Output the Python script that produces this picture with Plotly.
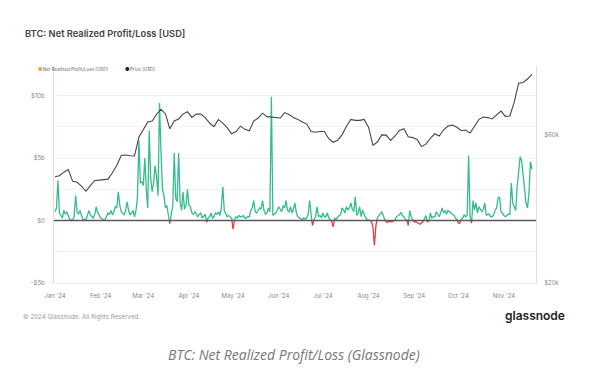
import pandas as pd
import plotly.graph_objects as go

# ---------------- data ----------------
# Net realized profit/loss, USD billions, daily from 2024-01-01
nrpl_start = "2024-01-01"
nrpl_b = [
    0.7, 1.0, 3.2, 0.6, 0.4, 0.2, 0.8, 0.5, 0.7, 0.3,
    0.1, 0.05, 0.05, 0.3, 2.0, 0.7, 0.5, 0.8, 0.3, 0.05,
    0.1, 0.05, 0.4, 0.8, 0.45, 0.3, 0.2, 0.5, 1.1, 0.6,
    0.45, 0.2, 0.1, 0.05, 0.05, 0.3, 0.6, 0.5, 0.8, 0.45,
    0.7, 1.1, 1.0, 2.3, 1.2, 0.7, 0.6, 0.45, 0.8, 1.5,
    0.8, 0.45, 0.6, 0.8, 0.3, 0.8, 1.8, 6.4, 3.0, 3.1,
    2.8, 5.0, 2.5, 1.0, 7.2, 3.4, 2.3, 3.0, 4.4, 3.5,
    2.0, 9.4, 5.5, 2.5, 2.0, 1.0, 1.2, 0.4, -0.25, 0.6,
    1.2, 5.4, 1.8, 1.5, 5.4, 1.5, 0.8, 2.3, 0.9, 1.2,
    2.5, 1.2, 1.1, 0.6, 0.5, 0.7, 0.5, 0.3, 0.5, 0.6,
    0.2, 0.4, 0.5, -0.15, 0.2, 0.3, 0.6, 0.2, 0.3, 0.6,
    0.5, 0.7, 0.4, 1.0, 2.7, 0.8, 0.5, 0.3, 0.4, 0.3,
    0.2, -0.7, 0.1, 0.3, 0.2, 0.4, 0.3, 0.3, 0.4, 0.2,
    0.2, 0.3, 0.3, 0.8, 1.0, 1.6, 0.7, 0.6, 0.8, 1.0,
    0.9, 1.6, 0.8, 0.5, 0.6, 1.0, 0.7, 9.9, 0.4, 0.5,
    0.6, 0.8, 1.1, 0.9, 0.7, 1.2, 1.0, 1.6, 0.8, 0.7,
    1.1, 0.6, 0.9, 1.4, 0.6, 0.3, 0.2, 0.1, 0.05, 0.2,
    0.1, 0.2, 0.5, 1.6, 0.3, -0.4, 0.1, 0.3, 1.1, 0.3,
    0.4, 0.2, 0.6, 0.3, 0.3, 0.6, 0.2, 0.05, -0.1, -0.5,
    0.2, 0.1, 0.3, 0.4, 0.45, 1.0, 0.85, 0.6, 1.1, 0.85,
    1.0, 1.4, 0.9, 0.7, 1.9, 0.4, 0.6, 1.1, 0.3, 0.85,
    0.5, 0.2, 0.1, 0.05, 0.0, -0.1, -0.5, -2.0, -0.4, 0.2,
    0.4, 0.6, 0.7, 0.4, 0.05, -0.1, -0.15, -0.05, -0.1, -0.1,
    -0.05, 0.05, 0.3, 0.4, 0.45, 0.65, 0.4, 0.3, 0.1, 0.05,
    -0.4, 0.8, 0.3, 0.05, -0.1, -0.1, -0.15, -0.2, -0.3, -0.2,
    -0.1, 0.1, 0.4, -0.1, -0.05, 0.6, 0.2, 0.3, 0.3, 0.7,
    0.5, 0.3, 0.6, 1.0, 0.6, 0.8, 0.5, 0.8, 0.7, 0.6,
    0.5, 0.4, 0.2, 0.1, -0.2, -0.2, 0.1, 0.2, 0.45, 0.3,
    0.4, 5.2, 0.3, -0.2, 1.6, 0.85, 1.4, 0.6, 1.1, 0.9,
    0.7, 0.9, 1.4, 0.4, 0.5, 0.5, 0.3, 0.3, 0.45, 0.8,
    1.0, 1.8, 1.9, 0.7, 0.5, 0.4, 0.3, 0.4, 0.5, 0.5,
    3.0, 1.4, 1.0, 0.8, 2.7, 4.0, 5.1, 4.8, 3.5, 2.5,
    1.4, 1.0, 2.2, 4.7, 4.1,
]

# BTC price, USD thousands, every 3 days from 2024-01-01
price_start = "2024-01-01"
price_k = [
    44.0, 44.3, 45.5, 46.4, 42.5, 42.2, 41.0, 39.5, 41.2, 42.8,
    42.9, 43.0, 43.2, 45.3, 47.9, 51.5, 51.7, 51.4, 51.3, 59.0,
    62.3, 66.0, 66.5, 69.9, 72.5, 70.2, 62.8, 66.5, 67.5, 70.0,
    71.2, 68.3, 70.0, 70.0, 68.2, 65.5, 63.8, 67.2, 65.5, 63.3,
    60.5, 61.5, 64.0, 62.5, 61.8, 66.5, 68.0, 70.5, 68.7, 68.5,
    68.0, 68.0, 70.8, 69.8, 68.2, 67.3, 66.0, 65.0, 61.5, 61.2,
    61.5, 61.5, 58.3, 56.8, 57.6, 60.0, 64.0, 67.3, 66.8, 66.8,
    67.3, 63.5, 55.5, 56.9, 60.0, 59.9, 57.6, 59.5, 62.0, 62.8,
    59.2, 58.8, 58.0, 55.0, 56.0, 58.5, 60.5, 59.5, 62.3, 64.1,
    64.5, 63.5, 61.9, 62.2, 60.8, 64.3, 67.3, 68.5, 68.2, 67.5,
    69.5, 71.6, 68.8, 69.0, 76.5, 88.0, 88.5, 90.8, 94.0,
]

month_ticks = ["2024-01-01", "2024-02-01", "2024-03-01", "2024-04-01", "2024-05-01",
               "2024-06-01", "2024-07-01", "2024-08-01", "2024-09-01", "2024-10-01",
               "2024-11-01"]
month_labels = ["Jan '24", "Feb '24", "Mar '24", "Apr '24", "May '24", "Jun '24",
                "Jul '24", "Aug '24", "Sep '24", "Oct '24", "Nov '24"]
left_ticks = [-5, 0, 5, 10]
left_labels = ["-$5b", "$0", "$5b", "$10b"]
right_ticks = [20, 60]
right_labels = ["$20k", "$60k"]

# ---------------- build ----------------
nrpl_dates = pd.date_range(nrpl_start, periods=len(nrpl_b), freq="D")
price_dates = pd.date_range(price_start, periods=len(price_k), freq="3D")

# split the NRPL line into positive (green) and negative (red) parts at zero crossings
xs, ys = [], []
for i, (d, v) in enumerate(zip(nrpl_dates, nrpl_b)):
    if i > 0:
        v0 = nrpl_b[i - 1]
        if (v0 > 0 > v) or (v0 < 0 < v):
            t = v0 / (v0 - v)
            d0 = nrpl_dates[i - 1]
            xs.append(d0 + (d - d0) * t)
            ys.append(0.0)
    xs.append(d)
    ys.append(v)
pos = [y if y >= 0 else None for y in ys]
neg = [y if y <= 0 else None for y in ys]

GREEN = "#34bd8c"
RED = "#e23f3f"

fig = go.Figure()
fig.add_trace(go.Scatter(x=price_dates, y=price_k, yaxis="y2", mode="lines",
                         line=dict(color="#464646", width=1.1), name="Price [USD]",
                         showlegend=False))
fig.add_trace(go.Scatter(x=xs, y=pos, mode="lines", connectgaps=False,
                         line=dict(color=GREEN, width=1.3), showlegend=False))
fig.add_trace(go.Scatter(x=xs, y=neg, mode="lines", connectgaps=False,
                         line=dict(color=RED, width=1.3), showlegend=False))

fig.add_shape(type="line", xref="paper", x0=0, x1=1, yref="y", y0=0, y1=0,
              line=dict(color="#5a5a5a", width=1.4), layer="above")

# the page body adds an 8 px offset; positions below are screen pixels
OFF = 8
L, R, T, B = 54, 536, 66, 283
W, H = 610 - OFF, 373 - OFF


def px(x):
    return (x - L) / (R - L)


def py(y):
    return (B - y) / (B - T)


fig.update_layout(
    width=W, height=H,
    margin=dict(l=L - OFF, r=W - (R - OFF), t=T - OFF, b=H - (B - OFF), pad=0),
    paper_bgcolor="white", plot_bgcolor="white",
    font=dict(family="Inter, Roboto, sans-serif", color="#888888", size=6),
    showlegend=False,
    xaxis=dict(
        type="date",
        range=["2023-12-31 07:40", "2024-11-22 18:40"],
        tickvals=month_ticks, ticktext=month_labels,
        tickfont=dict(size=6, color="#8a8a8a"),
        showgrid=False, zeroline=False,
        showline=True, linecolor="#eeeeee", linewidth=1,
        ticks="", ticklabelstandoff=7,
    ),
    yaxis=dict(
        range=[-5, 12.36],
        tickvals=left_ticks, ticktext=left_labels,
        tickfont=dict(size=6, color="#8a8a8a"),
        showgrid=True, gridcolor="#f2f2f2", gridwidth=1,
        minor=dict(dtick=2.5, tick0=0, showgrid=True, gridcolor="#f2f2f2", gridwidth=1),
        zeroline=False,
        showline=True, linecolor="#fbd5bf", linewidth=1,
        ticks="", ticklabelstandoff=7,
    ),
    yaxis2=dict(
        type="log", overlaying="y", side="right",
        range=[1.30103, 2.0],
        tickvals=right_ticks, ticktext=right_labels,
        tickfont=dict(size=6, color="#8a8a8a"),
        showgrid=False, zeroline=False,
        showline=True, linecolor="#dddddd", linewidth=1,
        ticks="", ticklabelstandoff=6,
    ),
)

ann = []
# title
ann.append(dict(x=px(23), y=py(34), xref="paper", yref="paper", xanchor="left", yanchor="middle",
                text="BTC: Net Realized Profit/Loss [USD]", showarrow=False,
                font=dict(family="Inter, sans-serif", size=9.3, color="#444444", weight=600)))
# legend
ann.append(dict(x=px(35.5), y=py(69), xref="paper", yref="paper", xanchor="left", yanchor="middle",
                text="●", showarrow=False, font=dict(size=5, color="#f5a340")))
ann.append(dict(x=px(41), y=py(69), xref="paper", yref="paper", xanchor="left", yanchor="middle",
                text="Net Realized Profit/Loss [USD]", showarrow=False,
                font=dict(size=4.5, color="#666666")))
ann.append(dict(x=px(122.5), y=py(69), xref="paper", yref="paper", xanchor="left", yanchor="middle",
                text="●", showarrow=False, font=dict(size=5, color="#222222")))
ann.append(dict(x=px(127.5), y=py(69), xref="paper", yref="paper", xanchor="left", yanchor="middle",
                text="Price [USD]", showarrow=False, font=dict(size=4.5, color="#666666")))
# footer
ann.append(dict(x=px(21), y=py(316.5), xref="paper", yref="paper", xanchor="left", yanchor="middle",
                text="© 2024 Glassnode. All Rights Reserved.", showarrow=False,
                font=dict(size=6.2, color="#9a9a9a")))
ann.append(dict(x=px(503), y=py(315.5), xref="paper", yref="paper", xanchor="left", yanchor="middle",
                text="glassnode", showarrow=False,
                font=dict(family="Inter, sans-serif", size=12, color="#222222", weight=600)))
# caption
ann.append(dict(x=px(294), y=py(354), xref="paper", yref="paper", xanchor="center", yanchor="middle",
                text="<i>BTC: Net Realized Profit/Loss (Glassnode)</i>", showarrow=False,
                font=dict(family="Open Sans, Noto Sans, sans-serif", size=14, color="#7b7670")))
fig.update_layout(annotations=ann)

fig.write_html("out.html")
